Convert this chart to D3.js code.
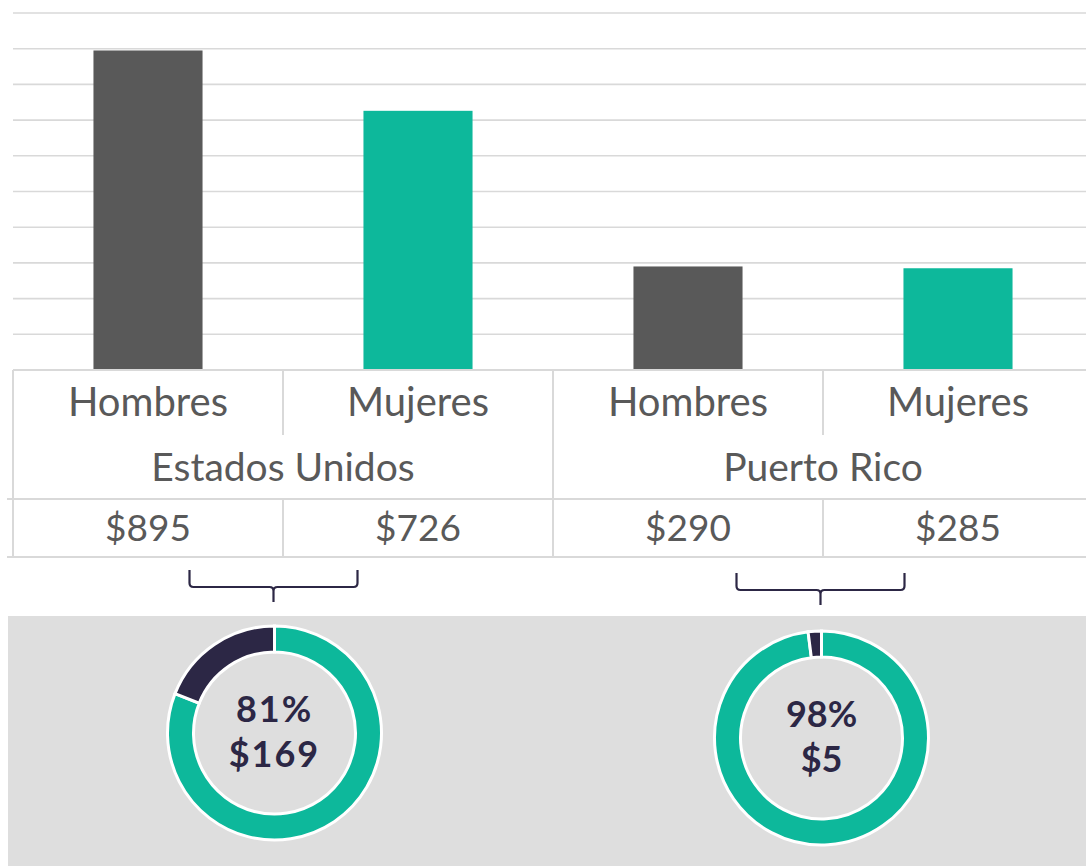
<!DOCTYPE html>
<html lang="es">
<head>
<meta charset="UTF-8">
<script src="https://d3js.org/d3.v7.min.js"></script>
<style>
body{
	margin: 0;
	background-color: white;
}
svg{
	display: block;
}
</style>
</head>
<body>
<svg width="1086" height="866"></svg>
<script>
// data
const groups = ["Estados Unidos", "Puerto Rico"];
const sexes = ["Hombres", "Mujeres"];
const earnings = [895, 726, 290, 285];      // Hombres/Mujeres per group
const ratioPct = [81, 98];                   // Mujeres as % of Hombres
const gapLabels = ["$169", "$5"];
const yTicks = d3.range(0, 1001, 100);

const grey = "#595959",
	teal = "#0db89b",
	navy = "#2c2745",
	lineCol = "#d9d9d9";

const svg = d3.select("svg");

const rows = groups.flatMap((g, gi) => sexes.map((s, si) => ({
	group: g, sex: s, value: earnings[gi * 2 + si], key: g + "|" + s
})));

const x = d3.scaleBand()
	.domain(rows.map(d => d.key))
	.range([13, 1093])
	.paddingInner(0.596)
	.paddingOuter(0.298);
const step = x.step();

const y = d3.scaleLinear().domain([0, 1000]).range([370, 13]);

// gridlines
svg.append("g")
	.selectAll("line")
	.data(yTicks.slice(1))
	.join("line")
	.attr("x1", 13).attr("x2", 1093)
	.attr("y1", d => y(d)).attr("y2", d => y(d))
	.attr("stroke", lineCol)
	.attr("stroke-width", 1.6);

// bars
svg.append("g")
	.selectAll("rect")
	.data(rows)
	.join("rect")
	.attr("x", d => x(d.key))
	.attr("width", x.bandwidth())
	.attr("y", d => y(d.value))
	.attr("height", d => y(0) - y(d.value))
	.attr("fill", d => d.sex == "Hombres" ? grey : teal);

// category table
const groupLeft = gi => 13 + gi * step * 2;
const tbl = svg.append("g")
	.attr("stroke", lineCol)
	.attr("stroke-width", 2)
	.attr("fill", "none");

const rowTop = 370, row1 = 435, row2 = 499, row3 = 557;

tbl.append("line").attr("x1", 13).attr("x2", 1093).attr("y1", rowTop).attr("y2", rowTop);
tbl.append("line").attr("x1", 7).attr("x2", 1093).attr("y1", row2).attr("y2", row2);
tbl.append("line").attr("x1", 7).attr("x2", 1093).attr("y1", row3).attr("y2", row3);

// vertical separators
[0, 1, 2].forEach(gi => {
	tbl.append("line")
		.attr("x1", groupLeft(gi)).attr("x2", groupLeft(gi))
		.attr("y1", rowTop).attr("y2", row3);
});
groups.forEach((g, gi) => {
	const xm = groupLeft(gi) + step;
	tbl.append("line").attr("x1", xm).attr("x2", xm).attr("y1", rowTop).attr("y2", row1);
	tbl.append("line").attr("x1", xm).attr("x2", xm).attr("y1", row2).attr("y2", row3);
});

const txt = svg.append("g")
	.attr("font-family", "Lato, 'Open Sans', sans-serif")
	.attr("fill", grey)
	.attr("text-anchor", "middle");

txt.selectAll(".sex")
	.data(rows)
	.join("text")
	.attr("class", "sex")
	.attr("x", d => x(d.key) + x.bandwidth() / 2)
	.attr("y", 416)
	.attr("font-size", 40)
	.text(d => d.sex);

txt.selectAll(".grp")
	.data(groups)
	.join("text")
	.attr("class", "grp")
	.attr("x", (d, i) => groupLeft(i) + step)
	.attr("y", 481)
	.attr("font-size", 39)
	.text(d => d);

txt.selectAll(".val")
	.data(rows)
	.join("text")
	.attr("class", "val")
	.attr("x", d => x(d.key) + x.bandwidth() / 2)
	.attr("y", 541)
	.attr("font-size", 37)
	.text(d => "$" + d.value);

// grey band
svg.append("rect")
	.attr("x", 8).attr("y", 616)
	.attr("width", 1078).attr("height", 250)
	.attr("fill", "#dedede");

// braces and donuts
const braceShift = [-9.5, -2.5], braceHalf = 84;
const braceTop = [570, 573], braceMid = [587, 590], braceBot = [602, 605];
const donutCy = [733, 738];
const arc = d3.arc().innerRadius(81).outerRadius(107);
const pie = d3.pie().sort(null).value(d => d);

groups.forEach((g, gi) => {
	const mid = groupLeft(gi) + step + braceShift[gi];
	const xa = mid - braceHalf, xb = mid + braceHalf;
	const t = braceTop[gi], m = braceMid[gi], bt = braceBot[gi];
	svg.append("path")
		.attr("d", `M${xa},${t} L${xa},${m - 4} Q${xa},${m} ${xa + 4},${m} L${mid - 4},${m} Q${mid},${m} ${mid},${m + 4} L${mid},${bt}`
			+ ` M${mid},${m + 4} Q${mid},${m} ${mid + 4},${m} L${xb - 4},${m} Q${xb},${m} ${xb},${m - 4} L${xb},${t}`)
		.attr("fill", "none")
		.attr("stroke", navy)
		.attr("stroke-width", 2.2);

	const dg = svg.append("g").attr("transform", `translate(${mid + 1},${donutCy[gi]})`);
	dg.selectAll("path")
		.data(pie([ratioPct[gi], 100 - ratioPct[gi]]))
		.join("path")
		.attr("d", arc)
		.attr("fill", (d, i) => i == 0 ? teal : navy)
		.attr("stroke", "white")
		.attr("stroke-width", 3);

	dg.append("text")
		.attr("text-anchor", "middle")
		.attr("y", -11)
		.attr("font-family", "Lato, sans-serif")
		.attr("font-weight", "bold")
		.attr("font-size", 36)
		.attr("letter-spacing", gi == 0 ? 2 : 0)
		.attr("fill", navy)
		.text(ratioPct[gi] + "%");
	dg.append("text")
		.attr("text-anchor", "middle")
		.attr("y", 34)
		.attr("font-family", "Lato, sans-serif")
		.attr("font-weight", "bold")
		.attr("font-size", 36)
		.attr("letter-spacing", gi == 0 ? 2 : 0)
		.attr("fill", navy)
		.text(gapLabels[gi]);
});
</script>
</body>
</html>
